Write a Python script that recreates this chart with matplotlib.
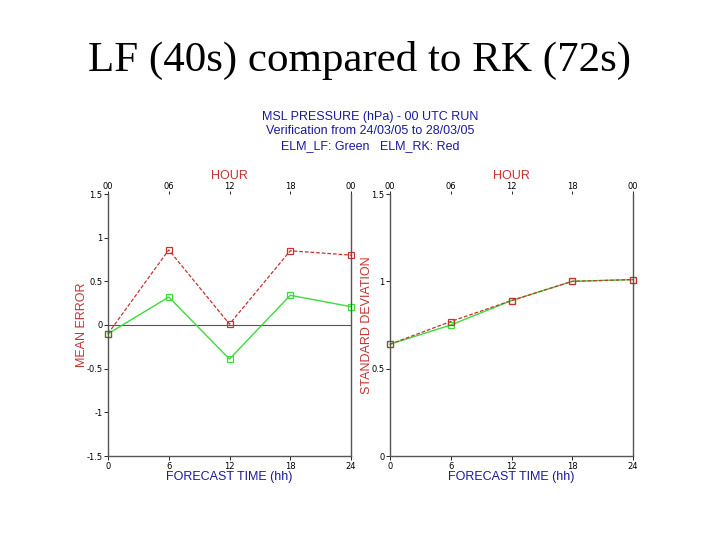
import matplotlib
matplotlib.use("Agg")
import matplotlib.pyplot as plt

hours = [0, 6, 12, 18, 24]
hour_labels = ["00", "06", "12", "18", "00"]
me_lf = [-0.10, 0.32, -0.39, 0.34, 0.21]
me_rk = [-0.10, 0.86, 0.01, 0.85, 0.80]
sd_lf = [0.64, 0.75, 0.89, 1.00, 1.01]
sd_rk = [0.64, 0.77, 0.89, 1.00, 1.01]

red = "#c83232"
green = "#3cdc3c"
blue = "#1a1aa0"

fig = plt.figure(figsize=(7.2, 5.4), dpi=100)
fig.patch.set_facecolor("white")

fig.text(0.5, 1 - 60 / 540, "LF (40s) compared to RK (72s)", ha="center", va="center",
         fontsize=31, family="Liberation Serif")
for i, line in enumerate(["MSL PRESSURE (hPa) - 00 UTC RUN",
                          "Verification from 24/03/05 to 28/03/05",
                          "ELM_LF: Green   ELM_RK: Red"]):
    fig.text(370 / 720, 1 - (117 + 14.5 * i) / 540, line, ha="center", va="center",
             fontsize=9, color=blue, family="Liberation Sans")

W, H = 720, 540
def make_ax(x0, x1, y0, y1):
    return fig.add_axes([x0 / W, 1 - y1 / H, (x1 - x0) / W, (y1 - y0) / H])

ax1 = make_ax(108, 351, 194, 456)
ax2 = make_ax(390, 633, 194, 456)

def style(ax, ylim, yticks, ylabel):
    ax.set_xlim(0, 24)
    ax.set_ylim(*ylim)
    ax.set_xticks(hours)
    ax.set_xticklabels([str(h) for h in hours])
    ax.set_yticks(yticks)
    ax.set_yticklabels([("%g" % t) for t in yticks])
    ax.spines["top"].set_visible(False)
    for s in ["left", "right", "bottom"]:
        ax.spines[s].set_color("#555555")
        ax.spines[s].set_linewidth(1.0)
    ax.tick_params(labelsize=6, length=3, width=0.6, colors="black", pad=1)
    ax.set_xlabel("FORECAST TIME (hh)", color=blue, fontsize=9, labelpad=0,
                  family="Liberation Sans")
    ax.set_ylabel(ylabel, color=red, fontsize=9, labelpad=-1, family="Liberation Sans")
    top = ax.secondary_xaxis("top")
    top.set_xticks(hours)
    top.set_xticklabels(hour_labels)
    top.tick_params(labelsize=6, length=2, width=0.6, pad=0.5)
    top.spines["top"].set_visible(False)
    top.set_xlabel("HOUR", color=red, fontsize=9, labelpad=2, family="Liberation Sans")

style(ax1, (-1.5, 1.5), [-1.5, -1, -0.5, 0, 0.5, 1, 1.5], "MEAN ERROR")
style(ax2, (0, 1.5), [0, 0.5, 1, 1.5], "STANDARD DEVIATION")

ax1.axhline(0, color="#555555", lw=0.8)

for ax, lf, rk in [(ax1, me_lf, me_rk), (ax2, sd_lf, sd_rk)]:
    ax.plot(hours, lf, color=green, lw=1.0, ls="-", marker="s", ms=5,
            mfc="none", mec=green, mew=0.9, clip_on=False)
    ax.plot(hours, rk, color=red, lw=0.9, ls=(0, (3, 1.5)), marker="s", ms=5,
            mfc="none", mec=red, mew=0.9, clip_on=False)

fig.savefig("out.png", dpi=100, facecolor="white")
